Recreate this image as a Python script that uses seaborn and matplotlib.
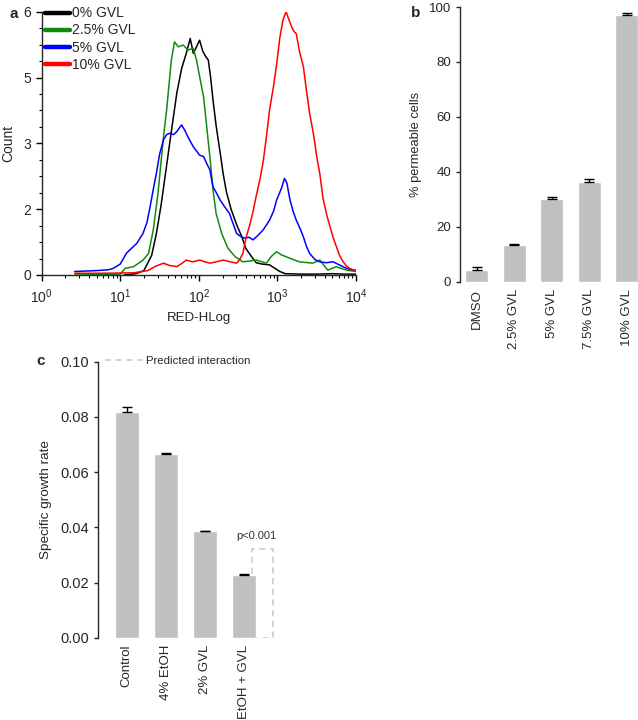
import matplotlib
matplotlib.use("Agg")
import matplotlib.pyplot as plt
from matplotlib.lines import Line2D
from matplotlib.ticker import MultipleLocator, FixedLocator, FixedFormatter, LogLocator, NullFormatter
import pandas as pd
import seaborn as sns
import numpy as np

# ==============================================================================
# DADOS
# ==============================================================================

# --- painel a: histogramas (posição em décadas de RED-HLog, contagem) ---
log_0 = [1.05, 1.2, 1.3, 1.4, 1.46, 1.52, 1.59, 1.66, 1.72, 1.78, 1.84, 1.89, 1.93, 1.97,
         2.01, 2.05, 2.09, 2.12, 2.15, 2.18, 2.22, 2.27, 2.31, 2.35, 2.41, 2.48, 2.54, 2.6,
         2.67, 2.73, 2.8, 2.9, 2.97, 3.03, 3.1, 3.3, 3.5, 3.7, 3.85, 4.0]
cnt_0 = [0.0, 0.03, 0.1, 0.45, 0.95, 1.6, 2.5, 3.4, 4.15, 4.7, 5.05, 5.39, 5.05, 5.2,
         5.35, 5.1, 4.97, 4.9, 4.5, 3.99, 3.4, 2.8, 2.3, 1.9, 1.5, 1.15, 0.9, 0.6,
         0.42, 0.28, 0.25, 0.23, 0.15, 0.08, 0.03, 0.02, 0.02, 0.03, 0.02, 0.02]

log_25 = [0.42, 0.8, 1.0, 1.06, 1.17, 1.29, 1.36, 1.42, 1.48, 1.55, 1.59, 1.65, 1.69, 1.74,
          1.8, 1.86, 1.93, 1.97, 2.01, 2.06, 2.1, 2.14, 2.18, 2.22, 2.29, 2.37, 2.46, 2.56,
          2.73, 2.86, 2.92, 2.99, 3.05, 3.16, 3.28, 3.45, 3.54, 3.64, 3.75, 3.88, 4.0]
cnt_25 = [0.0, 0.01, 0.02, 0.15, 0.19, 0.34, 0.49, 1.03, 1.86, 3.15, 3.76, 4.9, 5.31, 5.2,
          5.24, 5.13, 5.16, 4.9, 4.52, 4.06, 3.38, 2.7, 1.94, 1.4, 0.95, 0.61, 0.42, 0.3,
          0.34, 0.27, 0.42, 0.53, 0.46, 0.38, 0.3, 0.27, 0.34, 0.11, 0.19, 0.11, 0.08]

log_5 = [0.42, 0.7, 0.85, 0.91, 1.0, 1.08, 1.15, 1.21, 1.29, 1.34, 1.38, 1.42, 1.46, 1.5,
         1.55, 1.59, 1.63, 1.68, 1.72, 1.78, 1.82, 1.86, 1.93, 2.01, 2.06, 2.1, 2.14, 2.18,
         2.23, 2.27, 2.33, 2.39, 2.44, 2.48, 2.53, 2.58, 2.64, 2.69, 2.75, 2.82, 2.9, 2.95,
         2.99, 3.05, 3.09, 3.12, 3.16, 3.2, 3.24, 3.29, 3.33, 3.37, 3.41, 3.48, 3.54, 3.62,
         3.71, 3.8, 3.88, 3.95, 4.0]
cnt_5 = [0.08, 0.1, 0.12, 0.15, 0.25, 0.5, 0.62, 0.72, 0.95, 1.2, 1.56, 1.95, 2.32, 2.75,
         3.08, 3.2, 3.23, 3.2, 3.27, 3.42, 3.3, 3.15, 2.92, 2.73, 2.7, 2.54, 2.4, 2.01,
         1.85, 1.71, 1.55, 1.4, 1.15, 0.95, 0.88, 0.84, 0.86, 0.8, 0.9, 1.03, 1.25, 1.45,
         1.71, 1.97, 2.2, 2.1, 1.71, 1.45, 1.25, 1.05, 0.87, 0.65, 0.49, 0.35, 0.3, 0.28,
         0.3, 0.22, 0.15, 0.12, 0.11]

log_10 = [0.42, 0.8, 1.17, 1.35, 1.45, 1.55, 1.62, 1.72, 1.78, 1.84, 1.92, 2.01, 2.08, 2.14,
          2.22, 2.31, 2.4, 2.48, 2.52, 2.56, 2.6, 2.65, 2.69, 2.73, 2.78, 2.82, 2.86, 2.9,
          2.95, 2.99, 3.03, 3.07, 3.11, 3.15, 3.18, 3.21, 3.24, 3.28, 3.33, 3.37, 3.41, 3.46,
          3.5, 3.54, 3.58, 3.63, 3.67, 3.71, 3.75, 3.79, 3.83, 3.88, 3.92, 3.96, 4.0]
cnt_10 = [0.04, 0.04, 0.05, 0.1, 0.2, 0.27, 0.22, 0.19, 0.26, 0.34, 0.3, 0.34, 0.3, 0.27,
          0.3, 0.34, 0.3, 0.27, 0.35, 0.49, 0.85, 1.15, 1.45, 1.8, 2.2, 2.6, 3.15, 3.76,
          4.3, 4.8, 5.4, 5.81, 6.0, 5.8, 5.66, 5.55, 5.5, 5.1, 4.75, 4.2, 3.68, 3.2,
          2.7, 2.3, 1.75, 1.35, 1.1, 0.85, 0.65, 0.45, 0.32, 0.2, 0.15, 0.12, 0.1]

amostras = ["0% GVL", "2.5% GVL", "5% GVL", "10% GVL"]
cores_a = {"0% GVL": "#000000", "2.5% GVL": "#118a11", "5% GVL": "#0000ff", "10% GVL": "#ff0000"}
count_ticks = [0, 1.5, 3, 4.5, 6]
count_labels = ["0", "2", "3", "5", "6"]

# --- painel b ---
b_cats = ["DMSO", "2.5% GVL", "5% GVL", "7.5% GVL", "10% GVL"]
b_vals = [4.4, 13.4, 30.0, 36.3, 97.2]
b_top = [5.2, 13.7, 30.7, 37.5, 97.8]

# --- painel c ---
c_cats = ["Control", "4% EtOH", "2% GVL", "EtOH + GVL"]
c_vals = [0.0817, 0.0667, 0.0387, 0.0226]
c_top = [0.0837, 0.0670, 0.0388, 0.0230]
predito = 0.0321

# ==============================================================================
# ESTILO
# ==============================================================================
sns.set_style("ticks")
plt.rcParams['font.family'] = ['Liberation Sans', 'DejaVu Sans']
plt.rcParams['mathtext.default'] = 'regular'
plt.rcParams['axes.linewidth'] = 1.0

cinza = "#c0c0c0"
W, H = 638, 720

def eixo(x0, y_top, x1, y_bot):
    # converte pixels da imagem em fração da figura
    return fig.add_axes([x0 / W, 1 - y_bot / H, (x1 - x0) / W, (y_bot - y_top) / H])

fig = plt.figure(figsize=(6.38, 7.2), dpi=100)

# ==============================================================================
# PAINEL A
# ==============================================================================
ax_a = eixo(41.7, 11.7, 356, 275)
partes = []
for nome, lx, cy in zip(amostras, [log_0, log_25, log_5, log_10], [cnt_0, cnt_25, cnt_5, cnt_10]):
    partes.append(pd.DataFrame({"red": 10 ** np.array(lx), "count": cy, "amostra": nome}))
df_a = pd.concat(partes, ignore_index=True)

sns.lineplot(data=df_a, x="red", y="count", hue="amostra", palette=cores_a,
             estimator=None, sort=False, linewidth=1.1, ax=ax_a, legend=False)
ax_a.set_xscale("log")
ax_a.set_xlim(1, 1e4)
ax_a.set_ylim(0, 6)
ax_a.xaxis.set_major_locator(LogLocator(base=10, numticks=10))
ax_a.xaxis.set_minor_locator(LogLocator(base=10, subs=np.arange(2, 10), numticks=50))
ax_a.xaxis.set_minor_formatter(NullFormatter())
ax_a.yaxis.set_major_locator(FixedLocator(count_ticks))
ax_a.yaxis.set_major_formatter(FixedFormatter(count_labels))
ax_a.yaxis.set_minor_locator(MultipleLocator(0.375))
ax_a.tick_params(axis="both", which="major", length=4, width=1, labelsize=10, color="black")
ax_a.tick_params(axis="both", which="minor", length=2.5, width=0.8, color="black")
ax_a.tick_params(axis="x", which="major", pad=5)
ax_a.set_xlabel("RED-HLog", fontsize=9.5)
ax_a.set_ylabel("Count", fontsize=10, labelpad=6)
sns.despine(ax=ax_a)

handles = [Line2D([0], [0], color=cores_a[n], lw=3.2) for n in amostras]
ax_a.legend(handles, amostras, loc="upper left", bbox_to_anchor=(0.01, 1.02), frameon=False,
            fontsize=10, handlelength=1.8, handletextpad=0.15, labelspacing=0.22,
            borderpad=0, borderaxespad=0)
fig.text(10 / W, 1 - 14 / H, "a", fontsize=11, weight="bold", va="center")

# ==============================================================================
# PAINEL B
# ==============================================================================
ax_b = eixo(460, 7, 638, 281.7)
sns.barplot(x=b_cats, y=b_vals, color=cinza, saturation=1, width=0.61, errorbar=None, ax=ax_b)
ax_b.errorbar(range(len(b_vals)), b_vals,
              yerr=[np.zeros(len(b_vals)), np.array(b_top) - np.array(b_vals)],
              fmt="none", ecolor="black", elinewidth=1, capsize=3.5, capthick=1)
ax_b.set_xlim(-0.45, 4.3)
ax_b.set_ylim(0, 100)
ax_b.set_yticks([0, 20, 40, 60, 80, 100])
ax_b.tick_params(axis="y", length=3, width=1, labelsize=9.5)
ax_b.tick_params(axis="x", length=0, labelsize=9.5, rotation=90, pad=5)
ax_b.set_ylabel("% permeable cells", fontsize=9.3, labelpad=5)
ax_b.set_xlabel("")
sns.despine(ax=ax_b, bottom=True)
fig.text(411 / W, 1 - 13 / H, "b", fontsize=11, weight="bold", va="center")

# ==============================================================================
# PAINEL C
# ==============================================================================
ax_c = eixo(98, 361.7, 275, 637.7)
sns.barplot(x=c_cats, y=c_vals, color=cinza, saturation=1, width=0.6, errorbar=None, ax=ax_c)
for p in ax_c.patches:
    p.set_zorder(2)
ax_c.bar([3.47], [predito], width=0.54, fill=False, edgecolor="#c8c8c8",
         linestyle=(0, (4, 3)), linewidth=1.1, zorder=1)
ax_c.errorbar(range(len(c_vals)), c_vals,
              yerr=[np.zeros(len(c_vals)), np.array(c_top) - np.array(c_vals)],
              fmt="none", ecolor="black", elinewidth=1, capsize=3.5, capthick=1, zorder=3)
ax_c.text(3.33, 0.0368, "p<0.001", fontsize=8, ha="center", va="center", color="#333333")
ax_c.set_xlim(-0.74, 3.8)
ax_c.set_ylim(0, 0.1)
ax_c.set_yticks([0.0, 0.02, 0.04, 0.06, 0.08, 0.10])
ax_c.set_yticklabels(["0.00", "0.02", "0.04", "0.06", "0.08", "0.10"])
ax_c.tick_params(axis="y", length=3, width=1, labelsize=10.5)
ax_c.tick_params(axis="x", length=0, labelsize=9.5, rotation=90, pad=5)
ax_c.set_ylabel("Specific growth rate", fontsize=9.7, labelpad=6)
ax_c.set_xlabel("")
sns.despine(ax=ax_c, bottom=True)
leg_h = [Line2D([0], [0], color="#c8c8c8", lw=1.1, linestyle=(0, (4, 3)))]
ax_c.legend(leg_h, ["Predicted interaction"], loc="upper left", bbox_to_anchor=(0.04, 1.02),
            frameon=False, fontsize=8.2, handlelength=3.3, handletextpad=0.3,
            borderpad=0, borderaxespad=0)
fig.text(36 / W, 1 - 361 / H, "c", fontsize=11, weight="bold", va="center")

fig.savefig("out.png", dpi=100)
